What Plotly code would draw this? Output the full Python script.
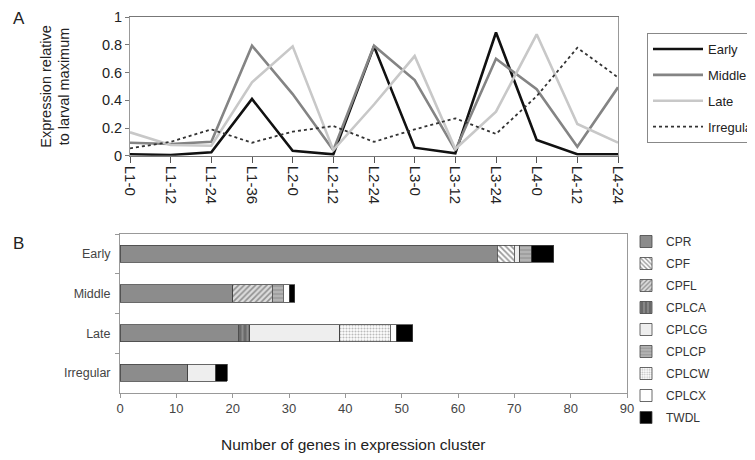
import plotly.graph_objects as go

# ---- Panel A data ----
timepoints = ["L1-0", "L1-12", "L1-24", "L1-36", "L2-0", "L2-12", "L2-24",
              "L3-0", "L3-12", "L3-24", "L4-0", "L4-12", "L4-24"]
early = [0.01, 0.005, 0.025, 0.41, 0.035, 0.01, 0.79, 0.058, 0.017, 0.89, 0.113, 0.01, 0.01]
middle = [0.094, 0.084, 0.10, 0.795, 0.445, 0.04, 0.795, 0.547, 0.04, 0.70, 0.48, 0.065, 0.494]
late = [0.169, 0.077, 0.072, 0.53, 0.79, 0.04, 0.37, 0.72, 0.048, 0.318, 0.877, 0.229, 0.094]
irregular = [0.053, 0.10, 0.19, 0.094, 0.174, 0.214, 0.10, 0.19, 0.27, 0.157, 0.43, 0.78, 0.566]

# ---- Panel B data ----
clusters = ["Early", "Middle", "Late", "Irregular"]
families = ["CPR", "CPF", "CPFL", "CPLCA", "CPLCG", "CPLCP", "CPLCW", "CPLCX", "TWDL"]
counts = {
    "CPR":   [67, 20, 21, 12],
    "CPF":   [3, 0, 0, 0],
    "CPFL":  [0, 7, 0, 0],
    "CPLCA": [0, 0, 2, 0],
    "CPLCG": [1, 0, 16, 5],
    "CPLCP": [2, 2, 0, 0],
    "CPLCW": [0, 0, 9, 0],
    "CPLCX": [0, 1, 1, 0],
    "TWDL":  [4, 1, 3, 2],
}

FONT = "Liberation Sans, Arial, sans-serif"
OFF = 8  # page body margin
W, H = 755 - OFF, 460 - OFF


def px(x):
    return (x - OFF) / W


def py(y):
    return 1 - (y - OFF) / H


fig = go.Figure()

line_styles = [
    ("Early", early, "#111111", "solid", 2.6),
    ("Middle", middle, "#848484", "solid", 2.6),
    ("Late", late, "#c8c8c8", "solid", 2.6),
    ("Irregular", irregular, "#333333", "dot", 1.8),
]
for name, vals, col, dash, w in line_styles:
    fig.add_trace(go.Scatter(x=timepoints, y=vals, name=name, mode="lines",
                             line=dict(color=col, dash=dash, width=w),
                             legendgroup=name,
                             xaxis="x", yaxis="y", legend="legend"))

bar_styles = {
    "CPR":   dict(color="#8c8c8c"),
    "CPF":   dict(color="#ffffff", pattern=dict(shape="\\", fgcolor="#333333", size=4, solidity=0.45)),
    "CPFL":  dict(color="#dcdcdc", pattern=dict(shape="/", fgcolor="#444444", size=4, solidity=0.4)),
    "CPLCA": dict(color="#6a6a6a", pattern=dict(shape="|", fgcolor="#b0b0b0", size=5, solidity=0.4)),
    "CPLCG": dict(color="#eeeeee"),
    "CPLCP": dict(color="#a0a0a0", pattern=dict(shape="-", fgcolor="#e0e0e0", size=4, solidity=0.3)),
    "CPLCW": dict(color="#ffffff", pattern=dict(shape=".", fgcolor="#777777", size=3, solidity=0.4)),
    "CPLCX": dict(color="#ffffff"),
    "TWDL":  dict(color="#000000"),
}
for fam in families:
    st = bar_styles[fam]
    marker = dict(color=st["color"], line=dict(color="#444444", width=0.8))
    if "pattern" in st:
        marker["pattern"] = st["pattern"]
    fig.add_trace(go.Bar(y=clusters, x=counts[fam], name=fam, orientation="h",
                         marker=marker, width=0.43, legendgroup=fam,
                         xaxis="x2", yaxis="y2", legend="legend2"))

fig.update_layout(
    width=W, height=H,
    margin=dict(l=0, r=0, t=0, b=0, autoexpand=False),
    paper_bgcolor="white", plot_bgcolor="white",
    font=dict(family=FONT, color="#222222"),
    barmode="stack",
    showlegend=True,
    xaxis=dict(domain=[px(130), px(618)], anchor="y", type="category",
               range=[0, 12], tickangle=90, ticks="outside", ticklen=6,
               tickcolor="#555555", showline=True, linecolor="#777777",
               mirror=True, showgrid=False, tickfont=dict(size=15, color="#222222")),
    yaxis=dict(domain=[py(155.7), py(17.3)], anchor="x",
               range=[0, 1], dtick=0.2, tickformat="~g", ticks="outside",
               ticklen=4, tickcolor="#777777", showline=True, linecolor="#999999",
               mirror=True, showgrid=False, zeroline=False,
               tickfont=dict(size=14.5, color="#222222"),
               title=dict(text="Expression relative<br>to larval maximum",
                          font=dict(size=14.5, color="#222222"), standoff=28)),
    xaxis2=dict(domain=[px(120), px(627)], anchor="y2", range=[0, 90], dtick=10,
                ticks="outside", ticklen=4, tickcolor="#999999", showline=True,
                linecolor="#999999", mirror=True, showgrid=False, zeroline=False,
                tickfont=dict(size=13, color="#444444")),
    yaxis2=dict(domain=[py(392.7), py(234)], anchor="x2", type="category",
                categoryorder="array", categoryarray=clusters, autorange="reversed",
                tickson="boundaries", ticks="outside", ticklen=4, tickcolor="#999999",
                showline=True, linecolor="#999999", mirror=True, showgrid=False,
                ticklabelstandoff=6,
                tickfont=dict(size=12.5, color="#444444")),
    legend=dict(x=px(647), y=py(33), xanchor="left", yanchor="top",
                bordercolor="#888888", borderwidth=1, bgcolor="white",
                font=dict(size=13, color="#222222"), itemwidth=50,
                tracegroupgap=6, traceorder="grouped"),
    legend2=dict(x=px(626), y=py(227), xanchor="left", yanchor="top",
                 borderwidth=0, bgcolor="rgba(0,0,0,0)",
                 font=dict(size=12, color="#333333"), itemwidth=30,
                 tracegroupgap=3, traceorder="grouped"),
    annotations=[
        dict(text="A", x=px(11), y=py(18), xref="paper", yref="paper",
             showarrow=False, font=dict(size=17, color="#222222"),
             xanchor="left", yanchor="middle"),
        dict(text="B", x=px(11), y=py(243), xref="paper", yref="paper",
             showarrow=False, font=dict(size=17, color="#222222"),
             xanchor="left", yanchor="middle"),
        dict(text="Number of genes in expression cluster", x=px(353), y=py(444),
             xref="paper", yref="paper", showarrow=False,
             font=dict(size=15.5, color="#222222"),
             xanchor="center", yanchor="middle"),
    ],
)

fig.write_html("out.html")
